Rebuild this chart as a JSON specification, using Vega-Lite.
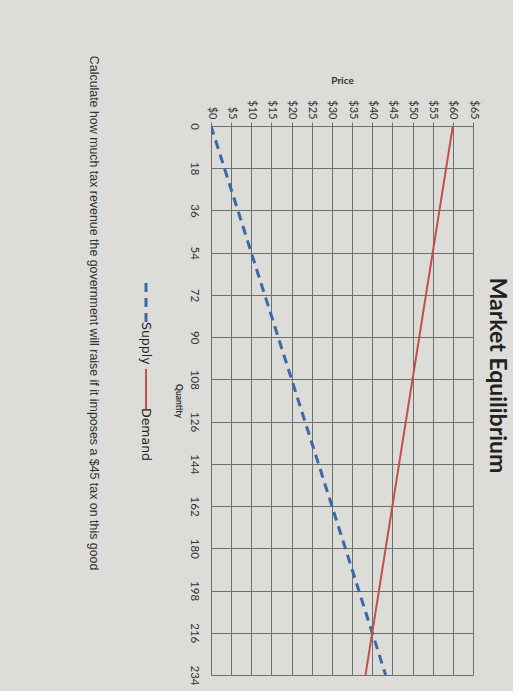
{
  "$schema": "https://vega.github.io/schema/vega-lite/v6.json",
  "background": "#dcdcd9",
  "padding": {"left": 87, "top": 55, "right": 5, "bottom": 5},
  "config": {"view": {"stroke": null}, "concat": {"spacing": 0}},
  "title": {
    "text": "Calculate how much tax revenue the government will raise if it imposes a $45 tax on this good",
    "orient": "left",
    "angle": 90,
    "anchor": "end",
    "align": "left",
    "baseline": "middle",
    "font": "Liberation Sans",
    "fontSize": 12.4,
    "fontWeight": "normal",
    "color": "#333333",
    "offset": 40,
    "dx": -20
  },
  "hconcat": [
    {
      "width": 262,
      "height": 549,
      "title": {
        "text": "Market Equilibrium",
        "orient": "right",
        "anchor": "middle",
        "font": "Lato",
        "fontSize": 23,
        "fontWeight": "bold",
        "color": "#222222",
        "offset": 6,
        "dx": -25
      },
      "data": {
        "values": [
          {"series": "Supply", "Quantity": 0, "Price": 0},
          {"series": "Supply", "Quantity": 18, "Price": 3.33},
          {"series": "Supply", "Quantity": 36, "Price": 6.67},
          {"series": "Supply", "Quantity": 54, "Price": 10},
          {"series": "Supply", "Quantity": 72, "Price": 13.33},
          {"series": "Supply", "Quantity": 90, "Price": 16.67},
          {"series": "Supply", "Quantity": 108, "Price": 20},
          {"series": "Supply", "Quantity": 126, "Price": 23.33},
          {"series": "Supply", "Quantity": 144, "Price": 26.67},
          {"series": "Supply", "Quantity": 162, "Price": 30},
          {"series": "Supply", "Quantity": 180, "Price": 33.33},
          {"series": "Supply", "Quantity": 198, "Price": 36.67},
          {"series": "Supply", "Quantity": 216, "Price": 40},
          {"series": "Supply", "Quantity": 234, "Price": 43.33},
          {"series": "Demand", "Quantity": 0, "Price": 60},
          {"series": "Demand", "Quantity": 18, "Price": 58.33},
          {"series": "Demand", "Quantity": 36, "Price": 56.67},
          {"series": "Demand", "Quantity": 54, "Price": 55},
          {"series": "Demand", "Quantity": 72, "Price": 53.33},
          {"series": "Demand", "Quantity": 90, "Price": 51.67},
          {"series": "Demand", "Quantity": 108, "Price": 50},
          {"series": "Demand", "Quantity": 126, "Price": 48.33},
          {"series": "Demand", "Quantity": 144, "Price": 46.67},
          {"series": "Demand", "Quantity": 162, "Price": 45},
          {"series": "Demand", "Quantity": 180, "Price": 43.33},
          {"series": "Demand", "Quantity": 198, "Price": 41.67},
          {"series": "Demand", "Quantity": 216, "Price": 40},
          {"series": "Demand", "Quantity": 234, "Price": 38.33}
        ]
      },
      "mark": {"type": "line", "clip": true},
      "encoding": {
        "x": {
          "field": "Price",
          "type": "quantitative",
          "scale": {"domain": [0, 65], "nice": false, "zero": true},
          "axis": {
            "orient": "top",
            "values": [0, 5, 10, 15, 20, 25, 30, 35, 40, 45, 50, 55, 60, 65],
            "labelExpr": "'$' + datum.value",
            "labelAngle": 90,
            "labelAlign": "right",
            "labelBaseline": "middle",
            "labelFont": "Lato",
            "labelFontSize": 11,
            "labelColor": "#333333",
            "labelPadding": 3,
            "title": "Price",
            "titleAngle": 0,
            "titleFont": "Lato",
            "titleFontSize": 10,
            "titleFontWeight": "bold",
            "titleColor": "#333333",
            "titlePadding": 14,
            "grid": true,
            "gridColor": "#6e6e6e",
            "gridOpacity": 1,
            "domain": false,
            "ticks": true,
            "tickSize": 4,
            "tickColor": "#6e6e6e",
            "labelOverlap": false,
            "labelFlush": false
          }
        },
        "y": {
          "field": "Quantity",
          "type": "quantitative",
          "scale": {"domain": [0, 234], "nice": false, "reverse": true},
          "axis": {
            "orient": "left",
            "values": [0, 18, 36, 54, 72, 90, 108, 126, 144, 162, 180, 198, 216, 234],
            "labelAngle": 90,
            "labelAlign": "center",
            "labelBaseline": "top",
            "labelFont": "Lato",
            "labelFontSize": 11.5,
            "labelColor": "#333333",
            "labelPadding": 12,
            "title": "Quantity",
            "titleAngle": 90,
            "titleFont": "Lato",
            "titleFontSize": 8.5,
            "titleFontWeight": "bold",
            "titleColor": "#333333",
            "titlePadding": 14,
            "grid": true,
            "gridColor": "#6e6e6e",
            "gridOpacity": 1,
            "domain": false,
            "ticks": false,
            "labelOverlap": false,
            "labelFlush": false
          }
        },
        "color": {
          "field": "series",
          "type": "nominal",
          "scale": {"domain": ["Supply", "Demand"], "range": ["#3b68a8", "#c0504d"]},
          "legend": {
            "orient": "none",
            "legendX": -65,
            "legendY": 177,
            "title": null,
            "labelFont": "DejaVu Sans",
            "labelFontSize": 12.5,
            "labelColor": "#222222",
            "symbolType": "M0,-1L0,1",
            "symbolSize": 1600,
            "symbolStrokeWidth": 2.5,
            "rowPadding": 0,
            "encode": {
              "symbols": {"update": {"x": {"value": 0}, "y": {"value": 0}}},
              "labels": {"update": {"x": {"value": 0}, "y": {"value": 19}, "angle": {"value": 90}, "align": {"value": "left"}, "baseline": {"value": "middle"}}}
            }
          }
        },
        "strokeDash": {
          "field": "series",
          "type": "nominal",
          "scale": {"domain": ["Supply", "Demand"], "range": [[9, 6], [1, 0]]},
          "legend": null
        },
        "strokeWidth": {
          "field": "series",
          "type": "nominal",
          "scale": {"domain": ["Supply", "Demand"], "range": [3, 2]},
          "legend": null
        },
        "order": {"field": "Quantity", "type": "quantitative"}
      }
    }
  ]
}
